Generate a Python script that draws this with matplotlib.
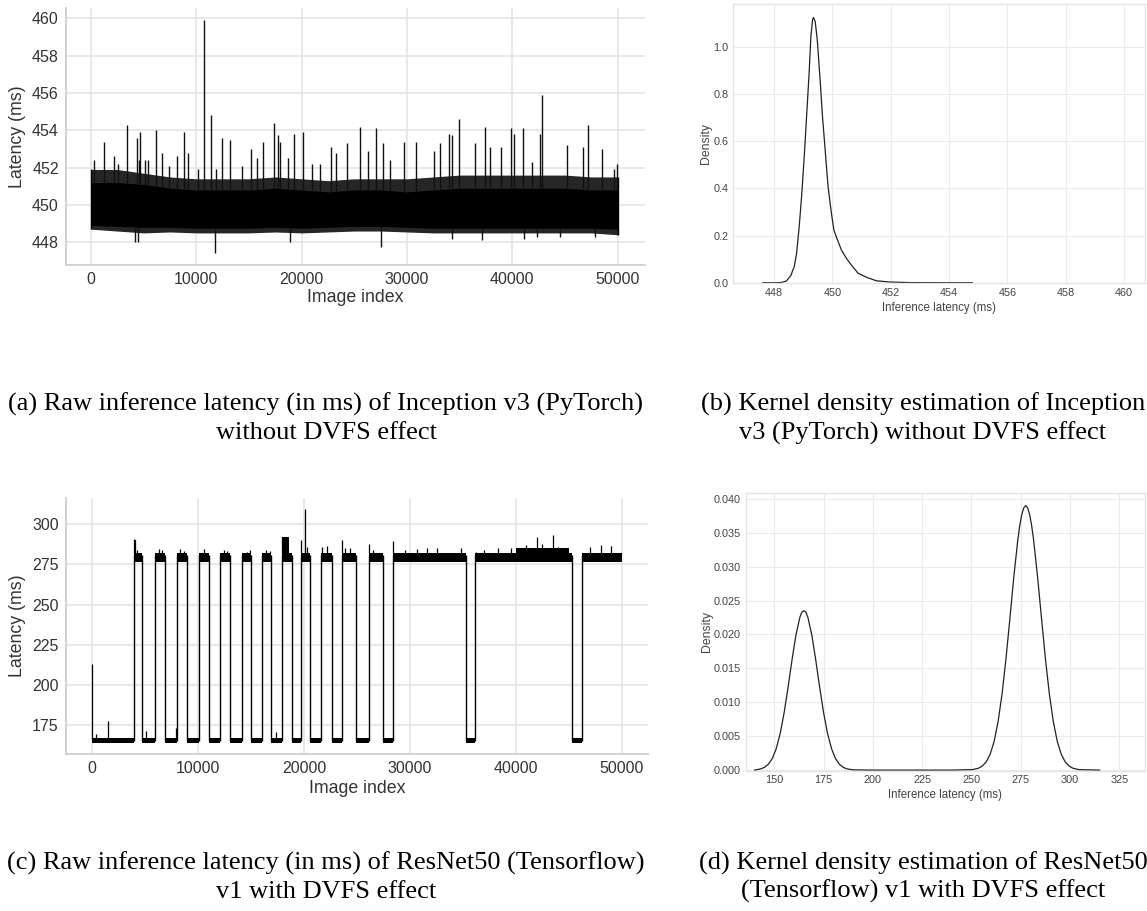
import numpy as np
import matplotlib
matplotlib.use("Agg")
import matplotlib.pyplot as plt

plt.rcParams['font.family'] = ['Liberation Sans', 'DejaVu Sans']

# ---------------- (a) Inception v3 (PyTorch) raw latency ----------------
# envelope of the dense band, read every 2500 images
a_idx = [0, 2500, 5000, 7500, 10000, 12500, 15000, 17500, 20000, 22500, 25000,
         27500, 30000, 32500, 35000, 37500, 40000, 42500, 45000, 47500, 50000]
a_core_hi = [451.2, 451.2, 451.1, 450.9, 450.8, 450.8, 450.8, 450.9, 450.8, 450.7, 450.8,
             450.8, 450.7, 450.8, 450.9, 450.9, 450.9, 450.9, 450.9, 450.8, 450.8]
a_core_lo = [448.9, 448.85, 448.8, 448.8, 448.75, 448.75, 448.75, 448.8, 448.75, 448.8, 448.85,
             448.85, 448.8, 448.75, 448.75, 448.75, 448.75, 448.75, 448.75, 448.75, 448.7]
a_fringe_hi = [451.9, 451.9, 451.7, 451.5, 451.4, 451.4, 451.4, 451.5, 451.4, 451.3, 451.4,
               451.4, 451.4, 451.5, 451.6, 451.6, 451.6, 451.6, 451.6, 451.5, 451.5]
a_fringe_lo = [448.7, 448.6, 448.5, 448.55, 448.5, 448.5, 448.5, 448.55, 448.5, 448.55, 448.6,
               448.6, 448.55, 448.5, 448.5, 448.5, 448.5, 448.5, 448.5, 448.5, 448.4]
# isolated spikes
a_up_idx = [260, 1258, 2176, 2575, 3454, 4372, 4572, 4652, 5171, 5450, 6169, 6768, 7367,
            8206, 8845, 9244, 10163, 10762, 11361, 11880, 12479, 13238, 14356, 15155,
            15754, 16353, 17351, 17751, 17990, 18749, 19228, 20146, 20945, 21744, 22742,
            23221, 24339, 25577, 26256, 27055, 27734, 28413, 29731, 30849, 32526, 33165,
            33964, 34323, 34922, 36440, 37438, 37917, 38915, 39913, 40193, 41031, 41910,
            42628, 42828, 45224, 46702, 47221, 48499, 49697, 49897]
a_up_val = [452.4, 453.4, 452.6, 452.2, 454.3, 453.6, 452.4, 453.9, 452.4, 452.4, 454.0, 452.8, 452.1,
            452.6, 453.9, 452.8, 451.9, 459.9, 454.8, 451.9, 453.6, 453.5, 452.1, 453.0,
            452.5, 453.4, 454.4, 453.75, 453.4, 452.5, 453.8, 453.9, 452.2, 452.2, 453.1,
            452.8, 453.3, 454.2, 452.9, 454.1, 453.3, 452.4, 453.4, 453.4, 452.9, 453.3,
            453.8, 453.75, 454.6, 453.3, 454.2, 453.1, 453.1, 454.1, 453.8, 454.1, 452.3,
            453.8, 455.9, 453.2, 453.1, 454.3, 453.0, 451.9, 452.2]
a_dn_idx = [4173, 4492, 11760, 18869, 27535, 34323, 37118, 41111, 42310, 44506, 47900]
a_dn_val = [448.0, 448.0, 447.4, 448.0, 447.75, 448.2, 448.1, 448.2, 448.3, 448.3, 448.3]

# ---------------- (b) KDE of (a) ----------------
b_lat = [447.62, 448.0, 448.25, 448.42, 448.57, 448.69, 448.77, 448.86, 448.95, 449.04,
         449.12, 449.2, 449.26, 449.32, 449.35, 449.41, 449.48, 449.57, 449.66, 449.76,
         449.85, 449.95, 450.05, 450.14, 450.31, 450.48, 450.65, 450.88, 451.17, 451.51,
         451.97, 452.66, 453.5, 454.8]
b_dens = [0.0, 0.0, 0.001, 0.007, 0.03, 0.068, 0.124, 0.237, 0.378, 0.548,
          0.718, 0.887, 1.042, 1.116, 1.124, 1.106, 1.028, 0.873, 0.703, 0.548,
          0.407, 0.308, 0.223, 0.192, 0.138, 0.103, 0.075, 0.04, 0.023, 0.008,
          0.003, 0.0005, 0.0002, 0.0]

# ---------------- (c) ResNet50 (Tensorflow) v1 raw latency ----------------
c_high_start = [3966, 5950, 8027, 10047, 12059, 14136, 16024, 17885, 19707, 21568,
                23579, 26157, 28366, 36138, 46214]
c_high_end = [4665, 6835, 8914, 10991, 13003, 15014, 16903, 18829, 20557, 22635,
              24901, 27417, 35260, 45270, 50000]
c_low_band = [163.9, 167.1]
c_high_band = [276.5, 282.0]
c_raised_start = [3966, 17885, 40000]
c_raised_end = [4150, 18550, 45000]
c_raised_top = [290.0, 292.0, 285.0]
c_spike_idx = [0, 350, 1500, 5040, 7900, 17400, 3990, 4080, 4200, 6300, 6600, 8300, 8700,
               10600, 12400, 12700, 14600, 14900, 16400, 16800, 17950, 18300, 19740, 20050,
               20300, 21700, 22200, 23600, 23900, 24300, 26170, 26500, 28400, 29500, 30700,
               31600, 32600, 34800, 36200, 37000, 38300, 39500, 41000, 41960, 42500, 43480,
               44000, 47000, 48000, 49000]
c_spike_val = [213.0, 169.5, 177.5, 171.4, 172.9, 170.8, 291.0, 290.0, 284.0, 284.5, 284.0, 284.5, 283.5,
               284.5, 284.0, 283.5, 283.0, 284.0, 284.0, 283.5, 292.0, 292.0, 290.0, 309.4,
               286.0, 286.0, 286.5, 290.5, 285.5, 285.0, 287.5, 284.0, 289.5, 284.0, 284.5,
               285.5, 285.0, 285.0, 283.0, 284.0, 285.0, 285.5, 287.0, 292.0, 288.0, 293.5,
               286.0, 286.0, 287.0, 286.5]

# ---------------- (d) KDE of (c) ----------------
d_lat = [140, 143, 145, 147, 149, 151, 153, 155, 157, 159, 161, 163, 164, 165, 166, 167,
         169, 171, 173, 175, 177, 179, 181, 183, 185, 187, 190, 200, 240,
         250.5, 253.5, 255.5, 257.5, 259.5, 261.5, 263.5, 265.5, 267.5, 269.5, 271.5,
         273.5, 274.5, 275.5, 276.5, 277.5, 278.5, 279.5, 280.5, 281.5, 283.5, 285.5,
         287.5, 289.5, 291.5, 293.5, 295.5, 297.5, 299.5, 301.5, 304.5, 315]
d_dens = [0.0, 0.00017, 0.0004, 0.00086, 0.00172, 0.00318, 0.00541, 0.00847, 0.01223,
          0.01628, 0.01996, 0.02256, 0.0233, 0.0235, 0.0233, 0.02256, 0.01996, 0.01628,
          0.01223, 0.00847, 0.00541, 0.00318, 0.00172, 0.00086, 0.0004, 0.00017, 0.00004,
          0.0, 0.0,
          0.00007, 0.00027, 0.00059, 0.00122, 0.00236, 0.00425, 0.00715, 0.01121, 0.01641,
          0.02241, 0.02856, 0.03396, 0.03608, 0.03767, 0.03866, 0.039, 0.03866, 0.03767,
          0.03608, 0.03396, 0.02856, 0.02241, 0.01641, 0.01121, 0.00715, 0.00425, 0.00236,
          0.00122, 0.00059, 0.00027, 0.00007, 0.0]

captions = {
    'a': ["(a) Raw inference latency (in ms) of Inception v3 (PyTorch)", "without DVFS effect"],
    'b': ["(b) Kernel density estimation of Inception", "v3 (PyTorch) without DVFS effect"],
    'c': ["(c) Raw inference latency (in ms) of ResNet50 (Tensorflow)", "v1 with DVFS effect"],
    'd': ["(d) Kernel density estimation of ResNet50", "(Tensorflow) v1 with DVFS effect"],
}

W, H = 1147, 911
fig = plt.figure(figsize=(W / 100, H / 100), dpi=100)


def px_axes(left, top, right, bottom):
    return fig.add_axes([left / W, 1 - bottom / H, (right - left) / W, (bottom - top) / H])


def style_raw(ax):
    ax.set_facecolor('white')
    for s in ['top', 'right']:
        ax.spines[s].set_visible(False)
    for s in ['left', 'bottom']:
        ax.spines[s].set_color('#cfcfcf')
        ax.spines[s].set_linewidth(1.3)
    ax.grid(True, color='#e3e3e3', linewidth=1.1)
    ax.set_axisbelow(True)
    ax.tick_params(length=0, labelsize=11.5, colors='#333333', pad=5)
    ax.set_xticks([0, 10000, 20000, 30000, 40000, 50000])
    ax.set_xlabel('Image index', fontsize=12.8, color='#333333')
    ax.set_ylabel('Latency (ms)', fontsize=12.8, color='#333333')


def style_kde(ax):
    for s in ax.spines.values():
        s.set_color('#e4e4e4')
        s.set_linewidth(1.0)
    ax.grid(True, color='#ebebeb', linewidth=0.8)
    ax.set_axisbelow(True)
    ax.tick_params(length=0, labelsize=7.8, colors='#444444', pad=3.5)
    ax.set_xlabel('Inference latency (ms)', fontsize=8.3, color='#444444')
    ax.set_ylabel('Density', fontsize=8.8, color='#444444')


# ---- (a)
ax = px_axes(65.7, 8.3, 645, 265)
style_raw(ax)
ax.fill_between(a_idx, a_fringe_lo, a_fringe_hi, color='#262626', linewidth=0)
ax.fill_between(a_idx, a_core_lo, a_core_hi, color='black', linewidth=0)
up_base = np.interp(a_up_idx, a_idx, a_core_hi)
ax.vlines(a_up_idx, up_base, a_up_val, color='#111111', linewidth=1.0)
dn_base = np.interp(a_dn_idx, a_idx, a_core_lo)
ax.vlines(a_dn_idx, a_dn_val, dn_base, color='#111111', linewidth=1.0)
ax.vlines([a_idx[0], a_idx[-1]], [a_fringe_lo[0], a_fringe_lo[-1]],
          [a_fringe_hi[0], a_fringe_hi[-1]], color='black', linewidth=1.0)
ax.set_xlim(-2400, 52600)
ax.set_ylim(446.78, 460.54)
ax.set_yticks([448, 450, 452, 454, 456, 458, 460])
ax.xaxis.set_label_coords(0.5, -0.093)
ax.yaxis.set_label_coords(-0.069, 0.5)

# ---- (b)
ax = px_axes(733.3, 4, 1145, 283.3)
style_kde(ax)
ax.plot(b_lat, b_dens, color='#222222', linewidth=0.9)
ax.set_xlim(446.6, 460.72)
ax.set_ylim(-0.0025, 1.181)
ax.set_xticks([448, 450, 452, 454, 456, 458, 460])
ax.set_yticks([0.0, 0.2, 0.4, 0.6, 0.8, 1.0])
ax.xaxis.set_label_coords(0.5, -0.067)
ax.yaxis.set_label_coords(-0.0525, 0.5)

# ---- (c)
ax = px_axes(65.7, 497.7, 648.2, 754.3)
style_raw(ax)
low_start = [0] + c_high_end[:-1]
low_end = c_high_start
for s, e in zip(low_start, low_end):
    ax.fill_between([s, e], c_low_band[0], c_low_band[1], color='black', linewidth=0)
for s, e in zip(c_high_start, c_high_end):
    ax.fill_between([s, e], c_high_band[0], c_high_band[1], color='black', linewidth=0)
for s, e, t in zip(c_raised_start, c_raised_end, c_raised_top):
    ax.fill_between([s, e], c_high_band[1], t, color='black', linewidth=0)
edges = c_high_start + c_high_end[:-1]
ax.vlines(edges, c_low_band[0] + 1, c_high_band[1] - 1, color='black', linewidth=1.0)
for i, v in zip(c_spike_idx, c_spike_val):
    base = c_high_band[1] if v > 240 else c_low_band[1]
    ax.vlines(i, base, v, color='black', linewidth=0.9)
ax.set_xlim(-2500, 52500)
ax.set_ylim(156.7, 316.6)
ax.set_yticks([175, 200, 225, 250, 275, 300])
ax.xaxis.set_label_coords(0.5, -0.102)
ax.yaxis.set_label_coords(-0.069, 0.5)

# ---- (d)
ax = px_axes(745.7, 492.7, 1145, 770.5)
style_kde(ax)
ax.plot(d_lat, d_dens, color='#222222', linewidth=0.9)
ax.set_xlim(135.5, 338.0)
ax.set_ylim(-0.00006, 0.0409)
ax.set_xticks([150, 175, 200, 225, 250, 275, 300, 325])
ax.set_yticks([0.0, 0.005, 0.01, 0.015, 0.02, 0.025, 0.03, 0.035, 0.04])
ax.set_yticklabels(['%.3f' % v for v in ax.get_yticks()])
ax.xaxis.set_label_coords(0.5, -0.0666)
ax.yaxis.set_label_coords(-0.081, 0.5)

# ---- captions
cap_pos = {'a': (326, 404.5, 433), 'b': (923, 404.5, 433),
           'c': (326, 863.3, 891.7), 'd': (923, 863.3, 891.7)}
for k, (cx, y1, y2) in cap_pos.items():
    for line, y in zip(captions[k], (y1, y2)):
        fig.text(cx / W, 1 - y / H, line, ha='center', va='center',
                 fontsize=19, family='Liberation Serif', color='black')

fig.savefig('out.png', dpi=100, facecolor='white')
